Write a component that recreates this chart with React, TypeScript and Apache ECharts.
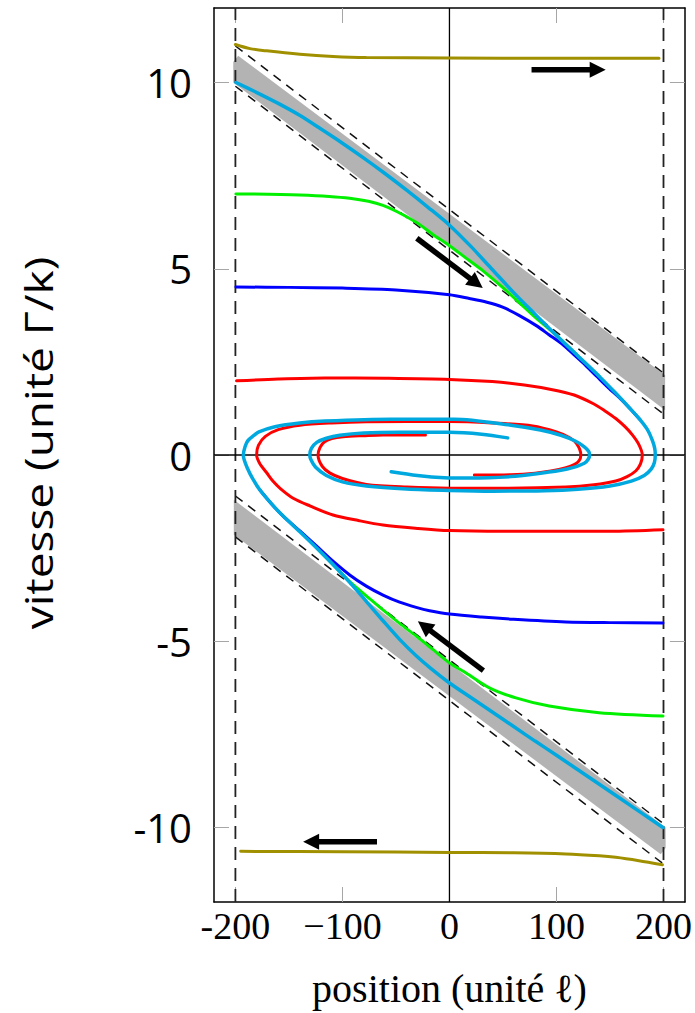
import React, { useEffect, useRef } from "react";
import * as echarts from "echarts";

// ---------- axes ----------
const X_TICKS = [-200, -100, 0, 100, 200];
const X_TICK_LABELS = ["-200", "\u2212100", "0", "100", "200"];
const Y_TICKS = [-10, -5, 0, 5, 10];
const Y_TICK_LABELS = ["-10", "-5", "0", "5", "10"];
const X_NAME = "position (unité \u2113)";
const Y_NAME = "vitesse (unité \u0393/k)";

// ---------- reference lines ----------
const WALL_LEFT = [[-200, -12], [-200, 12]];
const WALL_RIGHT = [[200, -12], [200, 12]];
const ZERO_V = [[0, -12], [0, 12]];
const ZERO_H = [[-220, 0], [220, 0]];
const UP_DASH_A = [[-200, 10.98], [200, 2.2]];
const UP_DASH_B = [[-200, 9.9], [200, 1.1]];
const LO_DASH_A = [[-200, -1.1], [200, -9.9]];
const LO_DASH_B = [[-200, -2.2], [200, -10.98]];

// ---------- gray bands ----------
const UPPER_BAND = [[-202, 10.0], [-202, 10.55], [-197.4, 10.72], [201.5, 2.14], [201.5, 1.2]];
const LOWER_BAND = [[-201.5, -1.2], [-201.5, -2.14], [197.4, -10.72], [202, -10.55], [202, -10.0]];
const BANDS = [UPPER_BAND, LOWER_BAND];

// ---------- trajectories ----------
const OLIVE_UP = [[-200, 11.02], [-186.4, 10.91], [-170.9, 10.85], [-139.8, 10.76], [-108.8, 10.7], [-77.7, 10.67], [0, 10.66], [100, 10.65], [195.8, 10.65]];
const OLIVE_DOWN = [[-195.1, -10.64], [-100, -10.65], [0, -10.67], [60, -10.68], [108.8, -10.71], [140, -10.76], [155.4, -10.8], [177, -10.89], [199, -11.0]];

const RED_UP = [[-198.9, 1.99], [-160, 2.04], [-116.5, 2.07], [-60, 2.06], [0, 2.03], [40, 1.97], [69.9, 1.88], [95, 1.76], [116.5, 1.61], [135, 1.37], [145, 1.19], [155.4, 0.98], [164, 0.76], [170.9, 0.54], [177, 0.28], [180.2, 0], [178.5, -0.24], [174, -0.43], [166, -0.58], [155.4, -0.7], [135, -0.8], [108.8, -0.86], [46.6, -0.89], [0, -0.89], [-40, -0.86], [-77.7, -0.79], [-100, -0.63], [-112, -0.48], [-119, -0.3], [-122.8, 0], [-121, 0.2], [-117, 0.35], [-110, 0.44], [-99.4, 0.49], [-80, 0.52], [-62.1, 0.54], [-22.4, 0.54]];
const RED_DOWN = [[199.5, -2.01], [150, -2.05], [108.8, -2.05], [50, -2.05], [0, -2.03], [-30, -1.97], [-62.1, -1.88], [-85, -1.76], [-108.8, -1.61], [-130, -1.37], [-146, -1.16], [-158, -0.9], [-165, -0.7], [-170.9, -0.47], [-177, -0.24], [-180.2, 0], [-178.5, 0.26], [-172, 0.5], [-160, 0.68], [-139.8, 0.8], [-110, 0.86], [-77.7, 0.89], [0, 0.9], [40, 0.86], [77.7, 0.78], [100, 0.62], [112, 0.47], [119, 0.3], [122.8, 0], [121, -0.16], [116.5, -0.26], [108, -0.35], [94.8, -0.43], [80, -0.49], [57.5, -0.53], [23.3, -0.54]];

const BLUE_UP = [[-199.5, 4.51], [-150, 4.5], [-100, 4.48], [-50, 4.43], [0, 4.3], [18.6, 4.2], [35, 4.1], [49.7, 3.97], [65, 3.75], [80.8, 3.48], [93, 3.23], [105.6, 2.97], [116, 2.7], [127.4, 2.4], [138, 2.1], [149.1, 1.79], [158, 1.56], [168, 1.27], [178, 0.95]];
const BLUE_DOWN = [[199.5, -4.51], [150, -4.5], [108.8, -4.48], [60, -4.41], [30, -4.35], [0, -4.27], [-18.6, -4.18], [-31.1, -4.09], [-46.6, -3.95], [-62.1, -3.76], [-77.7, -3.52], [-93.2, -3.22], [-108.8, -2.85], [-124.3, -2.44], [-139.8, -2.04], [-155.4, -1.64], [-166, -1.32], [-177.1, -0.94]];

const GREEN_UP = [[-199.5, 7.01], [-139.8, 6.98], [-93.2, 6.89], [-62.1, 6.7], [-31.1, 6.25], [-15.5, 5.92], [0, 5.62], [18.6, 5.22], [31.1, 4.95], [49.7, 4.5], [65, 4.1], [80.8, 3.68], [100, 3.21], [120, 2.66], [140, 2.11]];
const GREEN_DOWN = [[199.5, -7.01], [139.8, -6.92], [93.2, -6.74], [62.1, -6.52], [37.3, -6.25], [15.5, -5.85], [0, -5.58], [-15.5, -5.22], [-31.1, -4.86], [-46.6, -4.52], [-62.1, -4.16], [-77.7, -3.78], [-93.2, -3.4], [-108.8, -2.94], [-124.3, -2.49]];

const CYAN_UP = [[-199.5, 10.0], [-180, 9.73], [-160, 9.44], [-140, 9.12], [-120, 8.75], [-100, 8.37], [-80, 7.97], [-60, 7.55], [-40, 7.11], [-20, 6.65], [0, 6.17], [20, 5.6], [40, 4.98], [60, 4.36], [80, 3.78], [100, 3.21], [120, 2.66], [140, 2.11], [155, 1.67], [168, 1.27], [178, 0.95], [185, 0.68], [189.5, 0.4], [191.8, 0.18], [192.3, 0], [191.5, -0.2], [188.5, -0.38], [182, -0.55], [170, -0.7], [150, -0.83], [120, -0.92], [88.6, -0.96], [40, -0.97], [0, -0.95], [-40, -0.91], [-77.7, -0.83], [-100, -0.72], [-115, -0.55], [-125, -0.33], [-129.5, -0.12], [-130.5, 0], [-129, 0.18], [-124, 0.34], [-115, 0.45], [-102.5, 0.53], [-80, 0.59], [-46.6, 0.61], [0, 0.61], [30, 0.56], [54.4, 0.46]];
const CYAN_DOWN = [[199.5, -10.0], [180, -9.62], [160, -9.23], [140, -8.84], [120, -8.45], [100, -8.06], [80, -7.68], [60, -7.29], [40, -6.9], [20, -6.51], [0, -6.12], [-18.6, -5.7], [-31.1, -5.39], [-46.6, -4.95], [-62.1, -4.45], [-77.7, -3.93], [-93.2, -3.42], [-108.8, -2.94], [-124.3, -2.49], [-139.8, -2.06], [-155.4, -1.64], [-166, -1.32], [-177.1, -0.94], [-184, -0.63], [-189, -0.34], [-191.8, -0.13], [-192.6, 0], [-191, 0.22], [-188.5, 0.38], [-183, 0.52], [-178, 0.62], [-163.1, 0.76], [-140, 0.86], [-116.5, 0.91], [-54.4, 0.96], [4.7, 0.96], [57.5, 0.8], [85, 0.67], [104.1, 0.53], [118, 0.37], [126, 0.22], [130, 0.1], [131, 0], [129.5, -0.12], [126, -0.22], [115, -0.34], [104.1, -0.41], [80, -0.51], [57.5, -0.58], [20, -0.62], [-4.7, -0.61], [-30, -0.55], [-54.4, -0.45]];

// ---------- arrows: [x0, y0, x1 (tip), y1 (tip)] ----------
const ARROWS = [
  [76.7, 10.34, 146, 10.34],
  [-30.5, 5.82, 31.1, 4.48],
  [31.7, -5.79, -29.5, -4.46],
  [-67.7, -10.38, -136.7, -10.38],
];

const C_CYAN = "#00a8e0";
const C_RED = "#ff0000";
const C_BLUE = "#0000ff";
const C_GREEN = "#00f000";
const C_OLIVE = "#a09000";

function curve(data: number[][], color: string, width: number, z: number) {
  return {
    type: "line",
    data,
    showSymbol: false,
    symbol: "none",
    smooth: 0.3,
    silent: true,
    z,
    lineStyle: { color, width, cap: "round" },
  };
}

function refLine(data: number[][], color: string, width: number, type: any, z: number) {
  return {
    type: "line",
    data,
    showSymbol: false,
    symbol: "none",
    silent: true,
    z,
    lineStyle: { color, width, type },
  };
}

export default function App() {
  const ref = useRef<HTMLDivElement>(null);
  useEffect(() => {
    const chart = echarts.init(ref.current!, null, { renderer: "svg" });
    const tickStyle = { show: true, inside: true, length: 15, lineStyle: { color: "#a6a6a6", width: 1 } };
    const frameLine = { show: true, onZero: false, lineStyle: { color: "#000", width: 1.5 } };
    const option: any = {
      animation: false,
      backgroundColor: "#fff",
      grid: { left: 214, top: 8, right: 9, bottom: 109 },
      xAxis: [
        {
          type: "value",
          min: -220,
          max: 220,
          position: "bottom",
          axisLine: frameLine,
          axisTick: { ...tickStyle, customValues: X_TICKS },
          axisLabel: {
            customValues: X_TICKS,
            formatter: (v: number) => {
              const i = X_TICKS.indexOf(v);
              return i >= 0 ? X_TICK_LABELS[i] : "";
            },
            fontFamily: "Liberation Serif",
            fontSize: 38,
            color: "#000",
            margin: 5,
          },
          splitLine: { show: false },
          name: X_NAME,
          nameLocation: "middle",
          nameGap: 66,
          nameTextStyle: { fontFamily: "Liberation Serif", fontSize: 40, color: "#000" },
        },
        {
          type: "value",
          min: -220,
          max: 220,
          position: "top",
          axisLine: frameLine,
          axisTick: { ...tickStyle, customValues: X_TICKS },
          axisLabel: { show: false },
          splitLine: { show: false },
        },
      ],
      yAxis: [
        {
          type: "value",
          min: -12,
          max: 12,
          position: "left",
          axisLine: frameLine,
          axisTick: { ...tickStyle, customValues: Y_TICKS },
          axisLabel: {
            customValues: Y_TICKS,
            formatter: (v: number) => {
              const i = Y_TICKS.indexOf(v);
              return i >= 0 ? Y_TICK_LABELS[i] : "";
            },
            fontFamily: "Open Sans",
            fontSize: 40,
            color: "#000",
            margin: 22,
          },
          splitLine: { show: false },
        },
        {
          type: "value",
          min: -12,
          max: 12,
          position: "right",
          axisLine: frameLine,
          axisTick: { ...tickStyle, customValues: Y_TICKS },
          axisLabel: { show: false },
          splitLine: { show: false },
        },
      ],
      graphic: [
        {
          type: "text",
          x: 38,
          y: 443,
          rotation: Math.PI / 2,
          scaleY: 0.85,
          style: {
            text: Y_NAME,
            fontFamily: "Open Sans",
            fontSize: 46,
            fill: "#000",
            align: "center",
            verticalAlign: "middle",
          },
        },
      ],
      series: [
        {
          type: "custom",
          silent: true,
          z: 1,
          data: BANDS.map((_, i) => [i, 0]),
          renderItem: (params: any, api: any) => {
            const idx = api.value(0);
            const pts = BANDS[idx].map((p) => api.coord(p));
            return { type: "polygon", shape: { points: pts }, style: { fill: "#b3b3b3" } };
          },
        },
        refLine(UP_DASH_A, "#111", 1.5, [9, 7], 2),
        refLine(UP_DASH_B, "#111", 1.5, [9, 7], 2),
        refLine(LO_DASH_A, "#111", 1.5, [9, 7], 2),
        refLine(LO_DASH_B, "#111", 1.5, [9, 7], 2),
        refLine(WALL_LEFT, "#222", 1.8, [13, 8], 2),
        refLine(WALL_RIGHT, "#222", 1.8, [13, 8], 2),
        refLine(ZERO_V, "#000", 1.3, "solid", 2),
        refLine(ZERO_H, "#000", 1.3, "solid", 2),
        curve(OLIVE_UP, C_OLIVE, 3, 3),
        curve(OLIVE_DOWN, C_OLIVE, 3, 3),
        curve(RED_UP, C_RED, 3, 4),
        curve(RED_DOWN, C_RED, 3, 4),
        curve(BLUE_UP, C_BLUE, 3, 5),
        curve(BLUE_DOWN, C_BLUE, 3, 5),
        curve(GREEN_UP, C_GREEN, 3, 6),
        curve(GREEN_DOWN, C_GREEN, 3, 6),
        curve(CYAN_UP, C_CYAN, 3.5, 7),
        curve(CYAN_DOWN, C_CYAN, 3.5, 7),
        {
          type: "custom",
          silent: true,
          z: 8,
          data: ARROWS,
          encode: { x: [0, 2], y: [1, 3] },
          renderItem: (params: any, api: any) => {
            const a = api.coord([api.value(0), api.value(1)]);
            const b = api.coord([api.value(2), api.value(3)]);
            const dx = b[0] - a[0];
            const dy = b[1] - a[1];
            const L = Math.hypot(dx, dy) || 1;
            const ux = dx / L;
            const uy = dy / L;
            const headLen = 16;
            const half = 8;
            const bx = b[0] - ux * headLen;
            const by = b[1] - uy * headLen;
            const nx = -uy;
            const ny = ux;
            return {
              type: "group",
              children: [
                {
                  type: "line",
                  shape: { x1: a[0], y1: a[1], x2: bx + ux * 2, y2: by + uy * 2 },
                  style: { stroke: "#000", lineWidth: 5.5 },
                },
                {
                  type: "polygon",
                  shape: {
                    points: [
                      [b[0], b[1]],
                      [bx + nx * half, by + ny * half],
                      [bx - nx * half, by - ny * half],
                    ],
                  },
                  style: { fill: "#000" },
                },
              ],
            };
          },
        },
      ],
    };
    chart.setOption(option);
    return () => chart.dispose();
  }, []);
  return (
    <div
      ref={ref}
      style={{ position: "fixed", left: 0, top: 0, width: 695, height: 1013, background: "#fff" }}
    />
  );
}
